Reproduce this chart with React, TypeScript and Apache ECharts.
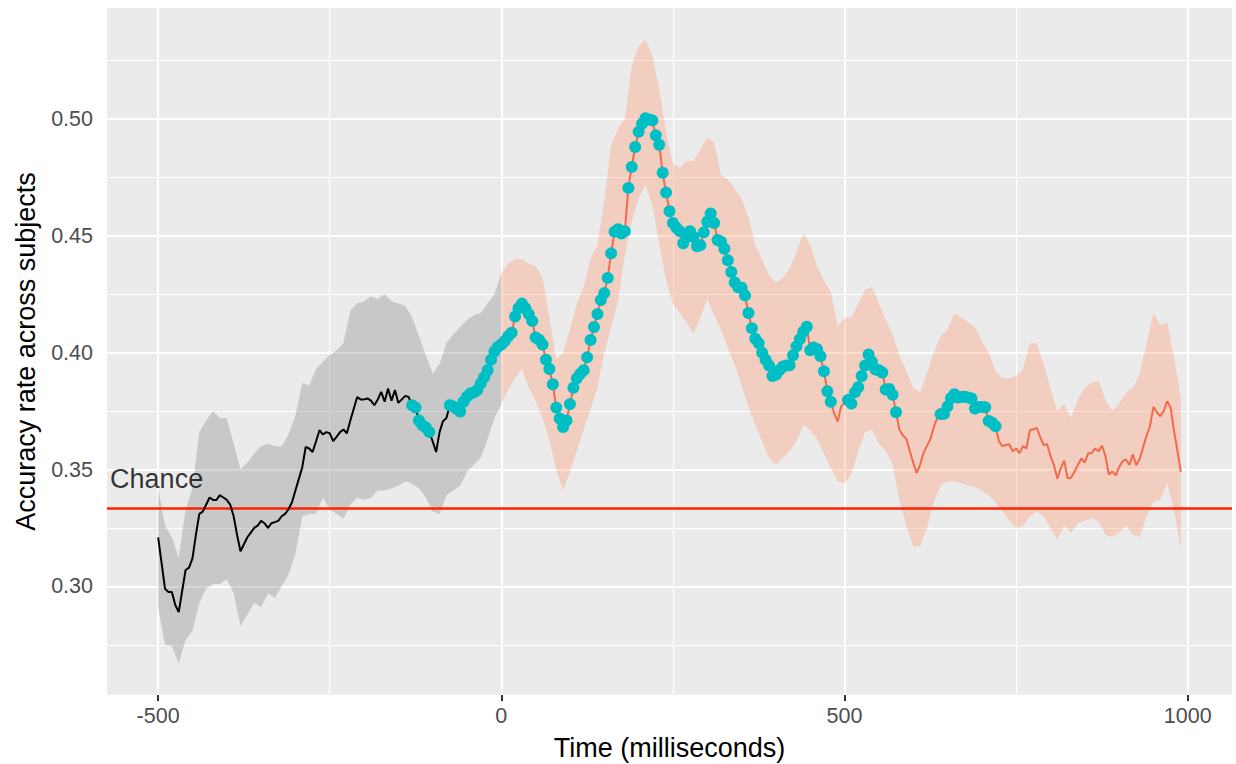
import { useEffect, useRef } from "react";
import * as echarts from "echarts";

// ---- data ----
// time grid of the mean accuracy curve (ms)
const accTimes = [
  -500, -495, -490, -485, -480, -475, -470, -465, -460, -455,
  -450, -445, -440, -435, -430, -425, -420, -415, -410, -405,
  -400, -395, -390, -385, -380, -375, -370, -365, -360, -355,
  -350, -345, -340, -335, -330, -325, -320, -315, -310, -305,
  -300, -295, -290, -285, -280, -275, -270, -265, -260, -255,
  -250, -245, -240, -235, -230, -225, -220, -215, -210, -205,
  -200, -195, -190, -185, -180, -175, -170, -165, -160, -155,
  -150, -145, -140, -135, -130, -125, -120, -115, -110, -105,
  -100, -95, -90, -85, -80, -75, -70, -65, -60, -55,
  -50, -45, -40, -35, -30, -25, -20, -15, -10, -5,
  0, 5, 10, 15, 20, 25, 30, 35, 40, 45,
  50, 55, 60, 65, 70, 75, 80, 85, 90, 95,
  100, 105, 110, 115, 120, 125, 130, 135, 140, 145,
  150, 155, 160, 165, 170, 175, 180, 185, 190, 195,
  200, 205, 210, 215, 220, 225, 230, 235, 240, 245,
  250, 255, 260, 265, 270, 275, 280, 285, 290, 295,
  300, 305, 310, 315, 320, 325, 330, 335, 340, 345,
  350, 355, 360, 365, 370, 375, 380, 385, 390, 395,
  400, 405, 410, 415, 420, 425, 430, 435, 440, 445,
  450, 455, 460, 465, 470, 475, 480, 485, 490, 495,
  500, 505, 510, 515, 520, 525, 530, 535, 540, 545,
  550, 555, 560, 565, 570, 575, 580, 585, 590, 595,
  600, 605, 610, 615, 620, 625, 630, 635, 640, 645,
  650, 655, 660, 665, 670, 675, 680, 685, 690, 695,
  700, 705, 710, 715, 720, 725, 730, 735, 740, 745,
  750, 755, 760, 765, 770, 775, 780, 785, 790, 795,
  800, 805, 810, 815, 820, 825, 830, 835, 840, 845,
  850, 855, 860, 865, 870, 875, 880, 885, 890, 895,
  900, 905, 910, 915, 920, 925, 930, 935, 940, 945,
  950, 955, 960, 965, 970, 975, 980, 985, 990,
];

// mean accuracy across subjects
const accuracy = [
  0.321, 0.310, 0.299, 0.2976, 0.2976, 0.292, 0.289, 0.298, 0.307, 0.308,
  0.312, 0.322, 0.331, 0.332, 0.335, 0.338, 0.337, 0.337, 0.339, 0.338,
  0.337, 0.335, 0.330, 0.322, 0.315, 0.318, 0.321, 0.323, 0.325, 0.326,
  0.328, 0.327, 0.325, 0.327, 0.3275, 0.328, 0.330, 0.331, 0.333, 0.336,
  0.341, 0.346, 0.351, 0.3597, 0.359, 0.3575, 0.362, 0.3668, 0.365, 0.366,
  0.3655, 0.3622, 0.364, 0.366, 0.3671, 0.3655, 0.371, 0.376, 0.381, 0.380,
  0.380, 0.3804, 0.3795, 0.3775, 0.380, 0.3832, 0.379, 0.3847, 0.3794, 0.384,
  0.3785, 0.380, 0.3815, 0.381, 0.3775, 0.3765, 0.371, 0.369, 0.368, 0.3661,
  0.362, 0.3575, 0.366, 0.3707, 0.372, 0.3775, 0.377, 0.376, 0.3748, 0.379,
  0.3812, 0.3825, 0.383, 0.384, 0.3868, 0.3895, 0.3925, 0.397, 0.4005, 0.4025,
  0.4035, 0.405, 0.407, 0.4085, 0.4155, 0.419, 0.421, 0.419, 0.4165, 0.4135,
  0.4065, 0.4055, 0.4035, 0.397, 0.393, 0.3865, 0.3765, 0.3718, 0.3682, 0.371,
  0.378, 0.385, 0.389, 0.391, 0.3925, 0.398, 0.4054, 0.411, 0.4165, 0.4225,
  0.4255, 0.432, 0.4425, 0.4518, 0.4528, 0.451, 0.452, 0.4705, 0.4795, 0.488,
  0.4945, 0.498, 0.5003, 0.4998, 0.4994, 0.493, 0.489, 0.477, 0.4685, 0.4605,
  0.4555, 0.4535, 0.452, 0.4468, 0.4495, 0.452, 0.4495, 0.4455, 0.446, 0.4515,
  0.456, 0.4596, 0.4555, 0.4482, 0.4475, 0.4445, 0.4395, 0.4345, 0.430, 0.428,
  0.4278, 0.4245, 0.417, 0.4105, 0.406, 0.404, 0.400, 0.397, 0.3945, 0.390,
  0.3905, 0.3925, 0.394, 0.3945, 0.3946, 0.3989, 0.4027, 0.4058, 0.409, 0.4111,
  0.401, 0.4022, 0.4015, 0.3985, 0.392, 0.3835, 0.379, 0.374, 0.3705, 0.377,
  0.3785, 0.3797, 0.3782, 0.383, 0.3852, 0.390, 0.3945, 0.3992, 0.396, 0.3928,
  0.3925, 0.3915, 0.3842, 0.3845, 0.382, 0.3745, 0.367, 0.3645, 0.3632, 0.358,
  0.353, 0.3485, 0.352, 0.357, 0.360, 0.363, 0.368, 0.3722, 0.3737, 0.3738,
  0.377, 0.3805, 0.3822, 0.3808, 0.381, 0.3811, 0.3808, 0.3804, 0.3761, 0.3768,
  0.3768, 0.3766, 0.3708, 0.370, 0.3685, 0.362, 0.360, 0.3605, 0.3608, 0.3578,
  0.359, 0.357, 0.360, 0.359, 0.3668, 0.3672, 0.3678, 0.364, 0.3604, 0.361,
  0.3558, 0.352, 0.3461, 0.3505, 0.3538, 0.3463, 0.3465, 0.349, 0.352, 0.3547,
  0.353, 0.357, 0.357, 0.359, 0.3578, 0.3602, 0.356, 0.3478, 0.3492, 0.3475,
  0.351, 0.3535, 0.3543, 0.352, 0.3565, 0.3518, 0.3545, 0.3595, 0.3645, 0.3685,
  0.3768, 0.3745, 0.3728, 0.375, 0.3792, 0.3765, 0.3665, 0.358, 0.349,
];

// time grid of the confidence band (ms)
const bandTimes = [
  -500, -490, -480, -470, -460, -450, -440, -430, -420, -410,
  -400, -390, -380, -370, -360, -350, -340, -330, -320, -310,
  -300, -290, -280, -270, -260, -250, -240, -230, -220, -210,
  -200, -190, -180, -170, -160, -150, -140, -130, -120, -110,
  -100, -90, -80, -70, -60, -50, -40, -30, -20, -10,
  0, 10, 20, 30, 40, 50, 60, 70, 80, 90,
  100, 110, 120, 130, 140, 150, 160, 170, 180, 190,
  200, 210, 220, 230, 240, 250, 260, 270, 280, 290,
  300, 310, 320, 330, 340, 350, 360, 370, 380, 390,
  400, 410, 420, 430, 440, 450, 460, 470, 480, 490,
  500, 510, 520, 530, 540, 550, 560, 570, 580, 590,
  600, 610, 620, 630, 640, 650, 660, 670, 680, 690,
  700, 710, 720, 730, 740, 750, 760, 770, 780, 790,
  800, 810, 820, 830, 840, 850, 860, 870, 880, 890,
  900, 910, 920, 930, 940, 950, 960, 970, 980, 990,
];

const ciLower = [
  0.291, 0.275, 0.2745, 0.267, 0.277, 0.281, 0.293, 0.299, 0.301, 0.301,
  0.303, 0.297, 0.283, 0.288, 0.293, 0.291, 0.297, 0.295, 0.300, 0.305,
  0.314, 0.330, 0.331, 0.331, 0.338, 0.333, 0.331, 0.329, 0.335, 0.338,
  0.337, 0.338, 0.341, 0.341, 0.342, 0.343, 0.345, 0.344, 0.342, 0.338,
  0.332, 0.331, 0.339, 0.341, 0.343, 0.349, 0.352, 0.355, 0.363, 0.372,
  0.378, 0.384, 0.389, 0.393, 0.385, 0.379, 0.372, 0.363, 0.350, 0.341,
  0.349, 0.358, 0.367, 0.376, 0.385, 0.400, 0.411, 0.422, 0.442, 0.456,
  0.466, 0.472, 0.463, 0.447, 0.431, 0.421, 0.417, 0.413, 0.408, 0.415,
  0.423, 0.416, 0.410, 0.402, 0.395, 0.386, 0.377, 0.369, 0.362, 0.355,
  0.352, 0.355, 0.358, 0.362, 0.369, 0.367, 0.363, 0.357, 0.351, 0.345,
  0.344, 0.348, 0.358, 0.366, 0.367, 0.361, 0.358, 0.352, 0.337, 0.326,
  0.317, 0.317, 0.325, 0.336, 0.343, 0.345, 0.345, 0.344, 0.343, 0.3425,
  0.341, 0.339, 0.336, 0.332, 0.328, 0.325, 0.326, 0.330, 0.332, 0.330,
  0.325, 0.320, 0.326, 0.323, 0.327, 0.328, 0.329, 0.328, 0.322, 0.321,
  0.323, 0.326, 0.322, 0.321, 0.330, 0.336, 0.337, 0.344, 0.333, 0.316,
];

const ciUpper = [
  0.342, 0.326, 0.321, 0.312, 0.333, 0.342, 0.366, 0.371, 0.375, 0.372,
  0.372, 0.361, 0.350, 0.353, 0.357, 0.360, 0.361, 0.360, 0.360, 0.365,
  0.373, 0.387, 0.386, 0.393, 0.396, 0.399, 0.401, 0.404, 0.418, 0.421,
  0.422, 0.424, 0.423, 0.425, 0.422, 0.421, 0.420, 0.415, 0.407, 0.399,
  0.391, 0.395, 0.404, 0.408, 0.411, 0.414, 0.416, 0.417, 0.421, 0.425,
  0.434, 0.438, 0.440, 0.440, 0.438, 0.437, 0.432, 0.415, 0.397, 0.400,
  0.410, 0.421, 0.428, 0.440, 0.446, 0.465, 0.489, 0.496, 0.500, 0.523,
  0.531, 0.534, 0.527, 0.513, 0.494, 0.481, 0.479, 0.482, 0.482, 0.487,
  0.492, 0.490, 0.476, 0.474, 0.470, 0.466, 0.458, 0.446, 0.440, 0.433,
  0.430, 0.432, 0.436, 0.443, 0.451, 0.446, 0.437, 0.431, 0.426, 0.411,
  0.415, 0.415, 0.421, 0.427, 0.428, 0.421, 0.414, 0.408, 0.399, 0.392,
  0.385, 0.383, 0.391, 0.400, 0.407, 0.410, 0.417, 0.415, 0.413, 0.411,
  0.405, 0.400, 0.392, 0.389, 0.389, 0.390, 0.393, 0.404, 0.404, 0.395,
  0.385, 0.375, 0.378, 0.372, 0.380, 0.385, 0.387, 0.388, 0.380, 0.375,
  0.378, 0.383, 0.385, 0.391, 0.404, 0.417, 0.412, 0.413, 0.398, 0.381,
];

// time windows (ms) where the accuracy is significantly above chance
const sigWindows: [number, number][] = [
  [-130, -105],
  [-75, 480],
  [505, 575],
  [640, 720],
];

const chanceLevel = 1 / 3;
const chanceLabel = "Chance";
const chanceLabelPos: [number, number] = [-570, 0.3458];

const xTicks = [-500, 0, 500, 1000];
const xMinor = [-250, 250, 750];
const yTicks = [0.3, 0.35, 0.4, 0.45, 0.5];
const yMinor = [0.275, 0.325, 0.375, 0.425, 0.475, 0.525];

const X_MIN = -574.5;
const X_MAX = 1064.5;
const Y_MIN = 0.2535;
const Y_MAX = 0.5475;

const FONT = "'Liberation Sans', Arial, Helvetica, sans-serif";

// ---- helpers ----
const isSig = (t: number) => sigWindows.some(([a, b]) => t >= a && t <= b);
const bandPre = bandTimes.map((_, i) => i).filter((i) => bandTimes[i] <= 0);
const bandPost = bandTimes.map((_, i) => i).filter((i) => bandTimes[i] >= 0);
const accPts = accTimes.map((t, i) => [t, accuracy[i]]);

function ribbon(idx: number[], fill: string) {
  const data = idx.map((i) => [bandTimes[i], ciLower[i], ciUpper[i]]);
  return {
    type: "custom",
    z: 2,
    silent: true,
    clip: true,
    data,
    encode: { x: 0, y: [1, 2] },
    renderItem: (params: any, api: any) => {
      if (params.dataIndex !== 0) return null;
      const up = data.map((d) => api.coord([d[0], d[2]]));
      const lo = data
        .slice()
        .reverse()
        .map((d) => api.coord([d[0], d[1]]));
      return {
        type: "polygon",
        shape: { points: up.concat(lo) },
        style: { fill, stroke: "none" },
      };
    },
  };
}

const gridLineData = [
  ...yTicks.map((v) => ({ yAxis: v, lineStyle: { color: "#FFFFFF", width: 2, type: "solid" } })),
  ...yMinor.map((v) => ({ yAxis: v, lineStyle: { color: "#FFFFFF", width: 1, type: "solid" } })),
  ...xTicks.map((v) => ({ xAxis: v, lineStyle: { color: "#FFFFFF", width: 2, type: "solid" } })),
  ...xMinor.map((v) => ({ xAxis: v, lineStyle: { color: "#FFFFFF", width: 1, type: "solid" } })),
];

const option: any = {
  animation: false,
  textStyle: { fontFamily: FONT },
  grid: {
    left: 107,
    top: 8,
    width: 1125,
    height: 687,
    show: true,
    backgroundColor: "#EBEBEB",
    borderWidth: 0,
    containLabel: false,
    outerBoundsMode: "none",
  },
  xAxis: {
    type: "value",
    min: X_MIN,
    max: X_MAX,
    splitLine: { show: false },
    axisLine: { show: false },
    axisTick: {
      show: true,
      customValues: xTicks,
      length: 6,
      lineStyle: { color: "#333333", width: 2 },
    },
    axisLabel: {
      customValues: xTicks,
      formatter: (v: number) => String(v),
      fontSize: 21.5,
      color: "#4D4D4D",
      margin: 10,
      fontFamily: FONT,
    },
    name: "Time (milliseconds)",
    nameLocation: "middle",
    nameGap: 39,
    nameTextStyle: { fontSize: 27, color: "#000000", fontFamily: FONT },
  },
  yAxis: {
    type: "value",
    min: Y_MIN,
    max: Y_MAX,
    splitLine: { show: false },
    axisLine: { show: false },
    axisTick: {
      show: true,
      customValues: yTicks,
      length: 6,
      lineStyle: { color: "#333333", width: 2 },
    },
    axisLabel: {
      customValues: yTicks,
      formatter: (v: number) => v.toFixed(2),
      fontSize: 21.5,
      color: "#4D4D4D",
      margin: 14,
      fontFamily: FONT,
    },
    name: "Accuracy rate across subjects",
    nameLocation: "middle",
    nameGap: 68,
    nameTextStyle: { fontSize: 27, color: "#000000", fontFamily: FONT },
  },
  series: [
    {
      name: "grid",
      type: "line",
      data: [],
      z: 1,
      silent: true,
      markLine: {
        silent: true,
        symbol: "none",
        precision: 6,
        z: 1,
        label: { show: false },
        emphasis: { disabled: true },
        lineStyle: { type: "solid" },
        data: gridLineData,
      },
    },
    ribbon(bandPre, "rgba(120,120,120,0.30)"),
    ribbon(bandPost, "rgba(255,140,90,0.30)"),
    {
      name: "chance",
      type: "line",
      data: [],
      z: 3,
      silent: true,
      markLine: {
        silent: true,
        symbol: "none",
        precision: 6,
        z: 3,
        label: { show: false },
        emphasis: { disabled: true },
        lineStyle: { type: "solid", color: "#FF2200", width: 2.5 },
        data: [{ yAxis: chanceLevel }],
      },
    },
    {
      name: "pre",
      type: "line",
      z: 4,
      silent: true,
      showSymbol: false,
      symbol: "none",
      lineStyle: { color: "#000000", width: 2 },
      data: accPts.filter((d) => d[0] <= 0),
    },
    {
      name: "post",
      type: "line",
      z: 4,
      silent: true,
      showSymbol: false,
      symbol: "none",
      lineStyle: { color: "#F4694B", width: 2 },
      data: accPts.filter((d) => d[0] >= 0),
    },
    {
      name: "significant",
      type: "scatter",
      z: 5,
      silent: true,
      symbolSize: 12,
      itemStyle: { color: "#00BFC4", opacity: 1 },
      data: accPts.filter((d) => isSig(d[0])),
    },
    {
      name: "chanceLabel",
      type: "scatter",
      z: 6,
      silent: true,
      symbolSize: 0,
      itemStyle: { color: "rgba(0,0,0,0)" },
      label: {
        show: true,
        position: "right",
        distance: 0,
        formatter: chanceLabel,
        fontSize: 27,
        color: "#000000",
        fontFamily: FONT,
      },
      data: [chanceLabelPos],
    },
  ],
};

export default function App() {
  const ref = useRef<HTMLDivElement>(null);
  useEffect(() => {
    const chart = echarts.init(ref.current!, null, { renderer: "svg" });
    chart.setOption(option);
    return () => chart.dispose();
  }, []);
  return (
    <div
      ref={ref}
      style={{ position: "fixed", left: 0, top: 0, width: 1236, height: 764, background: "#FFFFFF" }}
    />
  );
}
